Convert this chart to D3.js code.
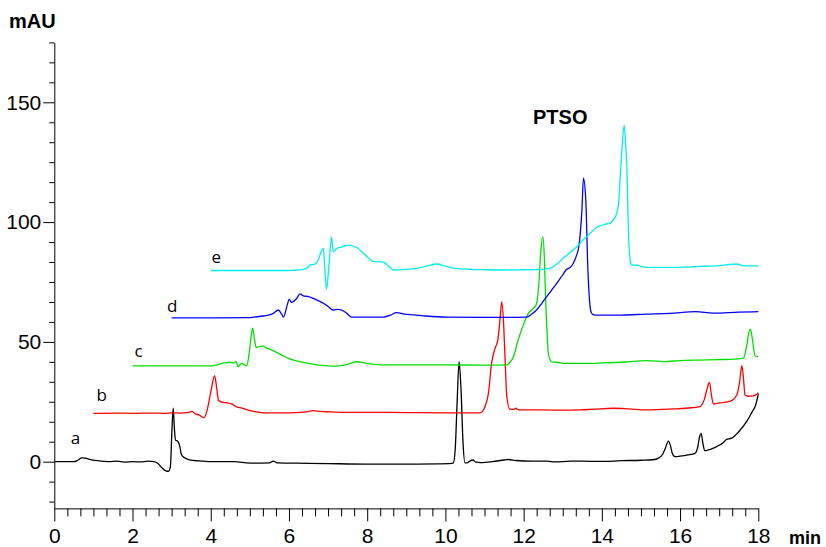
<!DOCTYPE html>
<html>
<head>
<meta charset="utf-8">
<script src="https://cdn.jsdelivr.net/npm/d3@7"></script>
<style>
  html, body { margin: 0; padding: 0; background: #fff; }
  svg { display: block; }
  .tick text { font-family: "Liberation Sans", Arial, sans-serif; font-size: 21px; fill: #000; }
</style>
</head>
<body>
<svg id="chart" width="826" height="547"></svg>
<script>
// Chromatograms a–e (time in min, absorbance in mAU), each run offset by 20 mAU
const traceA = [[0,0],[0.5,0],[0.6,0.6],[0.7,1.6],[0.8,1.5],[0.9,1.0],[1.1,0.4],[1.4,0],[1.6,0.2],[1.8,-0.2],[2.0,0],[2.2,-0.1],[2.4,0.2],[2.55,0],[2.65,-0.8],[2.75,-2.5],[2.85,-3.8],[2.92,-4.0],[2.97,-2],[3.0,10],[3.04,22.3],[3.07,14],[3.1,9],[3.15,8.6],[3.2,7],[3.25,3],[3.32,1.7],[3.45,0.8],[3.7,0.3],[4.0,0],[4.6,0],[5.0,-0.6],[5.5,-0.5],[5.6,0.2],[5.7,-0.5],[6.2,-0.6],[7.0,-0.8],[8.0,-1.0],[9.0,-1.0],[9.8,-0.9],[10.1,-0.8],[10.2,-0.6],[10.25,5],[10.3,25],[10.35,41.7],[10.4,30],[10.45,8],[10.5,-0.5],[10.55,-0.5],[10.62,0.2],[10.7,0.7],[10.78,-0.2],[10.9,-0.4],[11.2,0],[11.5,0.7],[11.6,0.9],[11.8,0.5],[12.2,0.2],[12.6,0.2],[12.8,-0.1],[13.2,0.2],[13.5,0.2],[14.0,0.1],[14.5,0.4],[15.0,0.6],[15.3,0.8],[15.45,1.5],[15.55,3],[15.62,5.5],[15.7,8.6],[15.75,7],[15.8,3.5],[15.87,2.1],[16.0,2.3],[16.2,2.8],[16.38,3.5],[16.45,6],[16.5,10.5],[16.54,11.8],[16.58,8],[16.63,4.6],[16.7,4.8],[16.9,6],[17.1,7.9],[17.19,9.3],[17.32,9.8],[17.5,12.5],[17.7,16.7],[17.85,21],[17.92,23],[18.0,28.2]];

const traceB = [[1,20.2],[1.5,20.3],[2,20.2],[2.5,20.3],[2.8,20.2],[3.0,20.4],[3.2,20.3],[3.45,20.6],[3.52,21.0],[3.6,20.0],[3.7,19.5],[3.83,18.4],[3.9,21],[4.0,29],[4.1,35.9],[4.15,31],[4.2,25.5],[4.3,24.8],[4.41,24.6],[4.55,24],[4.66,22.9],[4.8,22.4],[5.0,21.3],[5.2,20.7],[5.34,20.4],[5.8,20.4],[6.2,20.5],[6.5,20.9],[6.62,21.3],[6.8,21],[7.05,20.8],[7.5,20.6],[8.07,20.6],[9,20.5],[10,20.4],[10.88,20.4],[10.95,21.0],[11.01,22.9],[11.1,28.5],[11.18,41],[11.27,47.3],[11.34,50.8],[11.4,60],[11.44,66.8],[11.49,57],[11.53,41],[11.57,27.1],[11.65,21.9],[11.75,21.8],[11.8,22.3],[11.85,21.7],[11.91,21.6],[12.5,21.6],[13.0,21.5],[13.44,21.6],[13.8,21.9],[14.29,22.3],[14.7,22.0],[15.15,21.6],[15.8,22.0],[16.2,22.4],[16.51,23],[16.62,26],[16.7,31],[16.75,33.1],[16.8,28],[16.85,24.1],[17.0,24.5],[17.2,25.0],[17.32,25.5],[17.45,27.8],[17.52,33],[17.58,40.1],[17.62,35],[17.66,27.8],[17.75,27.3],[17.87,27.5],[17.95,28],[18.0,28.8]];

const traceC = [[2,40],[3,40],[4,40],[4.07,40.1],[4.2,40.6],[4.35,41.2],[4.49,41.5],[4.58,41.2],[4.65,41.8],[4.7,39.6],[4.78,41],[4.85,40.5],[4.92,40],[4.98,45],[5.03,52],[5.07,55.7],[5.12,51],[5.16,47.7],[5.25,48],[5.33,48.3],[5.42,47.5],[5.52,46.9],[5.7,45.5],[5.86,44.1],[6.0,43],[6.11,42.4],[6.4,41.3],[6.71,40.4],[7.0,40.0],[7.22,39.9],[7.5,40.6],[7.73,41.7],[8.0,41],[8.41,40.4],[9,40.4],[10,40.4],[11,40.3],[11.57,40.4],[11.65,41.5],[11.74,43.8],[11.86,50.8],[11.99,57],[12.12,61.9],[12.25,64],[12.32,65.5],[12.38,72],[12.44,88],[12.49,93.9],[12.53,85],[12.56,68.9],[12.6,54],[12.63,45.2],[12.72,41.7],[12.85,41.5],[13.1,41],[13.44,41],[14.0,41.2],[14.6,41.6],[15.15,42.2],[15.6,41.8],[16,42.2],[16.5,42.4],[17.0,42.6],[17.4,42.8],[17.62,43.2],[17.7,48],[17.76,54],[17.8,55.3],[17.85,51],[17.92,44.1],[18.0,43.8]];

const traceD = [[3,60],[4,60],[5,60.1],[5.09,60.3],[5.34,60.8],[5.5,61.3],[5.6,61.9],[5.73,63.3],[5.8,61.9],[5.86,60.3],[5.94,64.4],[6.01,67.8],[6.06,66.5],[6.11,66.8],[6.2,68.2],[6.28,70],[6.37,69.2],[6.5,68.9],[6.62,68.2],[6.75,67.2],[6.88,66.1],[7.0,64.8],[7.13,63.3],[7.25,63.6],[7.35,63.3],[7.48,61.9],[7.6,60.3],[8.0,60.3],[8.41,60.3],[8.6,61.2],[8.75,62.2],[8.95,61.6],[9.18,61.3],[9.5,60.8],[10.03,60.3],[11,60.2],[11.5,60.2],[12.08,60.3],[12.2,61.5],[12.33,63.3],[12.46,66],[12.59,68.9],[12.72,71.7],[12.85,74.5],[12.98,77.5],[13.1,80.3],[13.2,81.2],[13.27,82.8],[13.35,86],[13.41,89.7],[13.49,105],[13.53,118.3],[13.59,109],[13.64,81.4],[13.7,64.7],[13.74,61.9],[13.82,61.2],[13.95,61.2],[14.46,61.2],[15.15,61.6],[15.74,61.9],[16.4,62.6],[16.85,62.0],[17.5,62.4],[18,62.6]];

const traceE = [[4,79.8],[5,79.8],[6,79.8],[6.2,80],[6.37,80.3],[6.48,81],[6.54,82.1],[6.67,82.5],[6.75,84.2],[6.84,88.4],[6.88,89],[6.91,82.5],[6.96,71.9],[7.02,81.4],[7.09,93.7],[7.13,87.6],[7.22,89],[7.35,89.6],[7.45,90.2],[7.56,90.4],[7.66,89.8],[7.77,89],[7.9,87],[8.05,84.8],[8.16,83.5],[8.33,83.5],[8.45,83],[8.51,82.1],[8.6,80.8],[8.67,80],[9.0,80.3],[9.27,80.7],[9.5,81.5],[9.78,82.5],[10.0,81.6],[10.2,80.8],[10.6,80.3],[11.0,80.1],[11.48,80],[12.0,80.1],[12.4,80.2],[12.67,80.7],[12.85,82.5],[13.01,84.9],[13.2,87.5],[13.36,89.7],[13.5,92.2],[13.7,95.3],[13.85,97.5],[13.95,98.4],[14.1,99.2],[14.21,99.5],[14.3,101],[14.38,103.7],[14.43,108],[14.46,116.2],[14.52,132],[14.57,140.5],[14.61,132],[14.64,123.1],[14.68,95.3],[14.74,82.8],[14.8,82],[14.89,82.1],[15.0,81.5],[15.15,81.1],[15.74,81.1],[16.5,81.5],[17.0,81.8],[17.45,82.5],[17.6,81.8],[18.0,81.7]];

const traceNames = ["a", "b", "c", "d", "e"];
const traceColors = ["#000000", "#ff0000", "#00e000", "#0000ff", "#00eeee"];
// where each trace letter sits, in (min, mAU)
const nameAt = [[0.42, 7.4], [1.08, 25.5], [2.05, 43.5], [2.88, 62.5], [4.02, 83]];

const yMajor = [0, 50, 100, 150];
const xMajor = [0, 2, 4, 6, 8, 10, 12, 14, 16, 18];
const yDomain = [-19.5, 175];
const xDomain = [0, 18];
const peakLabel = { text: "PTSO", t: 12.24, v: 140.9 };

const svg = d3.select("#chart");
const x = d3.scaleLinear().domain(xDomain).range([54.3, 758.3]);
const y = d3.scaleLinear().domain(yDomain).range([508.4, 42.4]);

const font = '"Liberation Sans", Arial, sans-serif';

// minor tick positions: 1/3 min and 50/6 mAU
const xMinor = d3.range(0, 18 + 1e-9, 1 / 3).filter(v => Math.abs(v / 2 - Math.round(v / 2)) > 1e-6);
const yMinor = d3.range(-2, 22).map(i => i * 50 / 6)
  .filter(v => v >= yDomain[0] && v <= yDomain[1] + 1e-9 && Math.abs(v / 50 - Math.round(v / 50)) > 1e-6);

// Y axis
svg.append("g").attr("transform", `translate(${x(0)},0)`)
  .call(d3.axisLeft(y).tickValues(yMinor).tickSize(5).tickSizeOuter(0).tickFormat(""))
  .call(g => g.select(".domain").attr("stroke", "#000"));
svg.append("g").attr("transform", `translate(${x(0)},0)`)
  .call(d3.axisLeft(y).tickValues(yMajor).tickSize(11).tickSizeOuter(0).tickPadding(2).tickFormat(d3.format("d")))
  .call(g => g.select(".domain").remove());

// X axis
svg.append("g").attr("transform", `translate(0,${y(yDomain[0])})`)
  .call(d3.axisBottom(x).tickValues(xMinor).tickSize(8).tickSizeOuter(0).tickFormat(""))
  .call(g => g.select(".domain").attr("stroke", "#000"));
svg.append("g").attr("transform", `translate(0,${y(yDomain[0])})`)
  .call(d3.axisBottom(x).tickValues(xMajor).tickSize(13).tickSizeOuter(0).tickPadding(7).tickFormat(d3.format("d")))
  .call(g => g.select(".domain").remove());

svg.selectAll(".tick line").attr("stroke", "#000").attr("stroke-width", 1);

// Units
svg.append("text").attr("x", 9).attr("y", 28)
  .attr("font-family", font).attr("font-weight", "bold").attr("font-size", 20).text("mAU");
svg.append("text").attr("x", 789).attr("y", 544)
  .attr("font-family", font).attr("font-weight", "bold").attr("font-size", 18).text("min");

// Traces
const line = d3.line().x(d => x(d[0])).y(d => y(d[1])).curve(d3.curveMonotoneX);
const traces = [traceA, traceB, traceC, traceD, traceE];
traces.forEach((tr, i) => {
  svg.append("path").datum(tr)
    .attr("fill", "none")
    .attr("stroke", traceColors[i])
    .attr("stroke-width", 1.3)
    .attr("stroke-linejoin", "round")
    .attr("d", line);
  svg.append("text")
    .attr("x", x(nameAt[i][0])).attr("y", y(nameAt[i][1]))
    .attr("font-family", '"Open Sans", sans-serif').attr("font-size", 17)
    .attr("fill", "#000").text(traceNames[i]);
});

// Peak name
svg.append("text")
  .attr("x", x(peakLabel.t)).attr("y", y(peakLabel.v))
  .attr("font-family", font).attr("font-weight", "bold").attr("font-size", 20)
  .text(peakLabel.text);
</script>
</body>
</html>
